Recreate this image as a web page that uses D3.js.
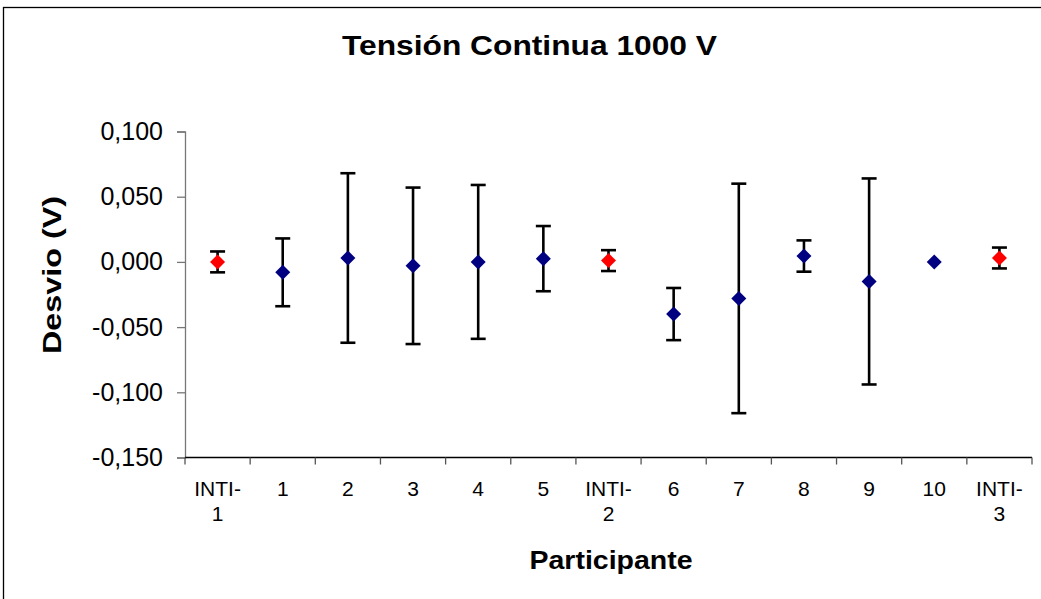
<!DOCTYPE html>
<html><head><meta charset="utf-8">
<script src="https://cdn.jsdelivr.net/npm/d3@7"></script>
<style>body{margin:0;background:#fff}svg{display:block}</style>
</head><body>
<svg id="c" width="1041" height="599"></svg>
<script>
const categories = ["INTI-1","1","2","3","4","5","INTI-2","6","7","8","9","10","INTI-3"];
const values = [0.000, -0.008, 0.003, -0.003, 0.000, 0.0025, 0.001, -0.040, -0.028, 0.0045, -0.015, 0.000, 0.003];
const errors = [0.008, 0.026, 0.065, 0.060, 0.059, 0.025, 0.008, 0.020, 0.088, 0.012, 0.079, 0.000, 0.008];
const yTicks = [0.1, 0.05, 0, -0.05, -0.1, -0.15];
const title = "Tensión Continua 1000 V";
const xTitle = "Participante";
const yTitle = "Desvio (V)";

const svg = d3.select("#c");
const font = "'Liberation Sans', Arial, sans-serif";
const L = 185, R = 1032, T = 131.5, B = 457.5;

svg.append("rect").attr("x",3.5).attr("y",7.5).attr("width",1100).attr("height",700)
  .attr("fill","none").attr("stroke","#000").attr("stroke-width",1.3);

const x = d3.scaleBand().domain(categories).range([L, R]).padding(0);
const y = d3.scaleLinear().domain([-0.15, 0.1]).range([B, T]);
const fmt = d => d3.format(".3f")(d).replace("\u2212", "-").replace(".", ",");

// y axis
const ya = svg.append("g").attr("transform",`translate(${L},0)`)
  .call(d3.axisLeft(y).tickValues(yTicks).tickSize(8).tickPadding(14).tickFormat(fmt));
ya.select(".domain").attr("stroke","#777").attr("stroke-width",1.3);
ya.selectAll(".tick line").attr("stroke","#777").attr("stroke-width",1.3);
ya.selectAll(".tick text").attr("font-family",font).attr("font-size",25).attr("fill","#000");

// x axis line and boundary ticks
const bounds = categories.map(c => x(c)).concat([x.range()[1]]);
svg.append("line").attr("x1",L).attr("x2",R).attr("y1",B).attr("y2",B)
  .attr("stroke","#000").attr("stroke-width",1.3);
svg.append("g").selectAll("line").data(bounds).join("line")
  .attr("x1",d=>d).attr("x2",d=>d).attr("y1",B).attr("y2",B+7)
  .attr("stroke","#555").attr("stroke-width",1.3);

// x labels
const xl = svg.append("g").selectAll("text").data(categories).join("text")
  .attr("x", d => x(d) + x.bandwidth()/2)
  .attr("y", 496)
  .attr("text-anchor","middle").attr("font-family",font).attr("font-size",21).attr("fill","#000");
xl.each(function(d){
  const t = d3.select(this);
  if (d.startsWith("INTI-")) {
    t.append("tspan").attr("x", x(d)+x.bandwidth()/2).text("INTI-");
    t.append("tspan").attr("x", x(d)+x.bandwidth()/2).attr("dy",25).text(d.slice(5));
  } else t.text(d);
});

// error bars
const pts = categories.map((c,i)=>({c, v:values[i], e:errors[i], ref:c.startsWith("INTI")}));
const eb = svg.append("g").attr("stroke","#000").attr("stroke-width",2.6);
pts.filter(p=>p.e>0).forEach(p=>{
  const cx = x(p.c)+x.bandwidth()/2;
  eb.append("line").attr("x1",cx).attr("x2",cx).attr("y1",y(p.v+p.e)).attr("y2",y(p.v-p.e));
  eb.append("line").attr("x1",cx-7.5).attr("x2",cx+7.5).attr("y1",y(p.v+p.e)).attr("y2",y(p.v+p.e));
  eb.append("line").attr("x1",cx-7.5).attr("x2",cx+7.5).attr("y1",y(p.v-p.e)).attr("y2",y(p.v-p.e));
});

// markers
svg.append("g").selectAll("path").data(pts).join("path")
  .attr("transform", p=>`translate(${x(p.c)+x.bandwidth()/2},${y(p.v)})`)
  .attr("d","M0,-7.5L7.5,0L0,7.5L-7.5,0Z")
  .attr("fill", p=>p.ref ? "#ff0000" : "#000080");

// titles
svg.append("text").attr("x",529.5).attr("y",55).attr("text-anchor","middle")
  .attr("font-family",font).attr("font-weight","bold").attr("font-size",28)
  .attr("textLength",375).attr("lengthAdjust","spacingAndGlyphs").text(title);
svg.append("text").attr("x",611).attr("y",569).attr("text-anchor","middle")
  .attr("font-family",font).attr("font-weight","bold").attr("font-size",26)
  .attr("textLength",163).attr("lengthAdjust","spacingAndGlyphs").text(xTitle);
svg.append("text").attr("transform","translate(61,275) rotate(-90)").attr("text-anchor","middle")
  .attr("font-family",font).attr("font-weight","bold").attr("font-size",26)
  .attr("textLength",158).attr("lengthAdjust","spacingAndGlyphs").text(yTitle);
</script>
</body></html>
